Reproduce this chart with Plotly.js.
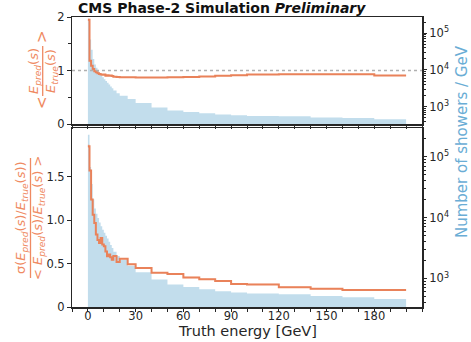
<!DOCTYPE html>
<html>
<head>
<meta charset="utf-8">
<script src="https://cdn.plot.ly/plotly-3.0.1.min.js"></script>
<style>html,body{margin:0;padding:0;background:#fff;}#chart{width:471px;height:342px;}</style>
</head>
<body>
<div id="chart"></div>
<script>
// ---- data ----
const binEdges = [0,1,2,3,4,5,6,7,8,9,10,11,12,13,14,15,16,18,20,25,30,40,50,60,70,80,90,100,120,140,160,180,200];
const showersPerGeV = [229000,67600,35500,20000,14100,11500,9800,8300,7200,6300,5600,5000,4500,4000,3550,3160,2750,2340,2000,1620,1260,955,795,724,661,617,589,562,550,513,490,457];
const response = [1.95,1.18,1.09,1.03,0.985,0.966,0.947,0.935,0.925,0.92,0.925,0.903,0.91,0.903,0.905,0.897,0.885,0.88,0.872,0.872,0.87,0.87,0.875,0.88,0.89,0.90,0.91,0.925,0.93,0.93,0.93,0.905];
const responseErr = [0.02,0.01,0.008,0.006,0.006,0.006,0.006,0.006,0.006,0.006,0.006,0.006,0.006,0.006,0.006,0.006,0.006,0.006,0.006,0.006,0.006,0.007,0.007,0.008,0.008,0.008,0.009,0.009,0.009,0.01,0.01,0.01];
const resolution = [1.85,1.57,1.236,1.063,0.967,0.833,0.77,0.737,0.795,0.72,0.70,0.64,0.584,0.603,0.573,0.545,0.587,0.518,0.556,0.493,0.45,0.395,0.38,0.34,0.32,0.30,0.265,0.26,0.227,0.21,0.196,0.196];
const resolutionErr = [0.02,0.012,0.01,0.008,0.008,0.008,0.008,0.008,0.008,0.008,0.008,0.008,0.008,0.008,0.008,0.008,0.008,0.008,0.008,0.008,0.008,0.008,0.008,0.008,0.008,0.008,0.008,0.008,0.008,0.008,0.008,0.008];
const xTickVals = [0,30,60,90,120,150,180];
const logTickVals = [1e3,1e4,1e5];
const logTickText = ['10<sup>3</sup>','10<sup>4</sup>','10<sup>5</sup>'];

// ---- styling ----
const ORANGE = '#e9825a';
const ORANGE_T = '#ef8a62';
const BAND = 'rgba(239,138,98,0.35)';
const BLUE_FILL = 'rgba(103,169,207,0.4)';
const BLUE_T = '#6aadd5';
const AX = '#262626';
const FONT = 'DejaVu Sans, sans-serif';

function stepY(v){ return v.concat([v[v.length-1]]); }
function addArr(a,b,s){ return a.map((v,i)=>v+s*b[i]); }

const minorLog = [];
for (let p=2;p<=5;p++){ for(let d=2;d<=9;d++){ minorLog.push(d*Math.pow(10,p)); } }

function histTraces(ya){
  return [
    {x:[binEdges[0],binEdges[binEdges.length-1]], y:[1,1], xaxis:ya.x, yaxis:ya.y, mode:'lines', line:{width:0,shape:'hv'}, hoverinfo:'skip', showlegend:false},
    {x:binEdges, y:stepY(showersPerGeV), xaxis:ya.x, yaxis:ya.y, mode:'lines', line:{width:0,shape:'hv'}, fill:'tonexty', fillcolor:BLUE_FILL, showlegend:false}
  ];
}
function lineTraces(vals, errs, ya){
  return [
    {x:binEdges, y:stepY(addArr(vals,errs,1)), xaxis:ya.x, yaxis:ya.y, mode:'lines', line:{width:0,shape:'hv'}, showlegend:false, hoverinfo:'skip'},
    {x:binEdges, y:stepY(addArr(vals,errs,-1)), xaxis:ya.x, yaxis:ya.y, mode:'lines', line:{width:0,shape:'hv'}, fill:'tonexty', fillcolor:BAND, showlegend:false, hoverinfo:'skip'},
    {x:binEdges, y:stepY(vals), xaxis:ya.x, yaxis:ya.y, mode:'lines', line:{width:2,color:ORANGE,shape:'hv'}, showlegend:false}
  ];
}

const data = [].concat(
  histTraces({x:'x', y:'y'}),
  lineTraces(resolution, resolutionErr, {x:'x', y:'y2'}),
  histTraces({x:'x2', y:'y3'}),
  lineTraces(response, responseErr, {x:'x2', y:'y4'})
);

const tickFont = {family:FONT, size:11.5, color:AX};
const common = {showline:true, linecolor:AX, linewidth:1.5, ticks:'outside', ticklen:3.5, tickwidth:1, tickcolor:AX, showgrid:false, zeroline:false, tickfont:tickFont};

// plot area: x 72..422, y 17..307
const L=72, R=49, T=17, B=35, W=471, H=342;
const pw = W-L-R, ph = H-T-B;
const px = v => (v-L)/pw;
const py = v => (H-B-v)/ph;

const layout = {
  width:W, height:H,
  margin:{l:L, r:R, t:T, b:B, pad:0},
  paper_bgcolor:'#fff', plot_bgcolor:'#fff',
  font:{family:FONT, color:AX},
  title:{text:'<b>CMS Phase-2 Simulation <i>Preliminary</i></b>', font:{family:FONT, size:14, color:'#111'}, xref:'container', x:78/W, xanchor:'left', yref:'container', y:1-8.5/H, yanchor:'middle'},
  xaxis: Object.assign({}, common, {domain:[0,1], anchor:'y', range:[-10,210], tickvals:xTickVals, mirror:true, ticklabelstandoff:-6,
           minor:{dtick:10, tick0:0, ticks:'outside', ticklen:3.5, tickcolor:AX, showgrid:false}}),
  xaxis2: Object.assign({}, common, {domain:[0,1], anchor:'y3', range:[-10,210], matches:'x', dtick:10, tick0:0, showticklabels:false, mirror:true}),
  yaxis: Object.assign({}, common, {domain:[0, py(128)], type:'log', side:'right', range:[2.53,5.47], tickvals:logTickVals, ticktext:logTickText, mirror:true,
           minor:{tickvals:minorLog, ticks:'outside', ticklen:2, tickcolor:AX, showgrid:false}}),
  yaxis2: Object.assign({}, common, {overlaying:'y', side:'left', anchor:'x', range:[0,2.06], tickvals:[0,0.5,1,1.5], ticktext:['0','0.5','1.0','1.5']}),
  yaxis3: Object.assign({}, common, {domain:[py(124),1], anchor:'x2', type:'log', side:'right', range:[2.53,5.44], tickvals:logTickVals, ticktext:logTickText, mirror:true,
           minor:{tickvals:minorLog, ticks:'outside', ticklen:2, tickcolor:AX, showgrid:false}}),
  yaxis4: Object.assign({}, common, {overlaying:'y3', side:'left', anchor:'x2', range:[0,2], tickvals:[0,1,2],
           minor:{dtick:0.5, ticks:'outside', ticklen:2.5, tickcolor:AX, showgrid:false}}),
  shapes:[
    {type:'line', xref:'x2 domain', yref:'y4', x0:0, x1:1, y0:1, y1:1, line:{color:'#b0b0b0', width:1.4, dash:'dot'}, layer:'above'},
    {type:'line', xref:'paper', yref:'paper', x0:px(42.7), x1:px(42.7), y0:py(96), y1:py(46), line:{color:ORANGE_T, width:1.3}},
    {type:'line', xref:'paper', yref:'paper', x0:px(30.5), x1:px(30.5), y0:py(278), y1:py(158), line:{color:ORANGE_T, width:1.3}}
  ],
  annotations:[
    {xref:'paper', yref:'paper', x:0.5, y:py(331), text:'Truth energy [GeV]', showarrow:false, font:{family:FONT, size:14.5, color:AX}, xanchor:'center', yanchor:'middle'},
    {xref:'paper', yref:'paper', x:px(462), y:py(142), text:'Number of showers / GeV', textangle:-90, showarrow:false, font:{family:FONT, size:15, color:BLUE_T}, xanchor:'center', yanchor:'middle'},
    // top-left label: < E_pred / E_true >
    {xref:'paper', yref:'paper', x:px(42), y:py(103), text:'&lt;', textangle:-90, showarrow:false, font:{family:FONT, size:15, color:ORANGE_T}, xanchor:'center', yanchor:'middle'},
    {xref:'paper', yref:'paper', x:px(42), y:py(37), text:'&gt;', textangle:-90, showarrow:false, font:{family:FONT, size:15, color:ORANGE_T}, xanchor:'center', yanchor:'middle'},
    {xref:'paper', yref:'paper', x:px(34), y:py(71), text:'<i>E</i><sub><i>pred</i></sub>(<i>s</i>)', textangle:-90, showarrow:false, font:{family:FONT, size:13, color:ORANGE_T}, xanchor:'center', yanchor:'middle'},
    {xref:'paper', yref:'paper', x:px(51), y:py(71), text:'<i>E</i><sub><i>true</i></sub>(<i>s</i>)', textangle:-90, showarrow:false, font:{family:FONT, size:13, color:ORANGE_T}, xanchor:'center', yanchor:'middle'},
    // bottom-left label
    {xref:'paper', yref:'paper', x:px(22), y:py(218), text:'σ(<i>E</i><sub><i>pred</i></sub>(<i>s</i>)/<i>E</i><sub><i>true</i></sub>(<i>s</i>))', textangle:-90, showarrow:false, font:{family:FONT, size:13, color:ORANGE_T}, xanchor:'center', yanchor:'middle'},
    {xref:'paper', yref:'paper', x:px(39), y:py(218), text:'&lt; <i>E</i><sub><i>pred</i></sub>(<i>s</i>)/<i>E</i><sub><i>true</i></sub>(<i>s</i>) &gt;', textangle:-90, showarrow:false, font:{family:FONT, size:13, color:ORANGE_T}, xanchor:'center', yanchor:'middle'}
  ]
};

Plotly.newPlot('chart', data, layout, {displayModeBar:false, staticPlot:true});
</script>
</body>
</html>
